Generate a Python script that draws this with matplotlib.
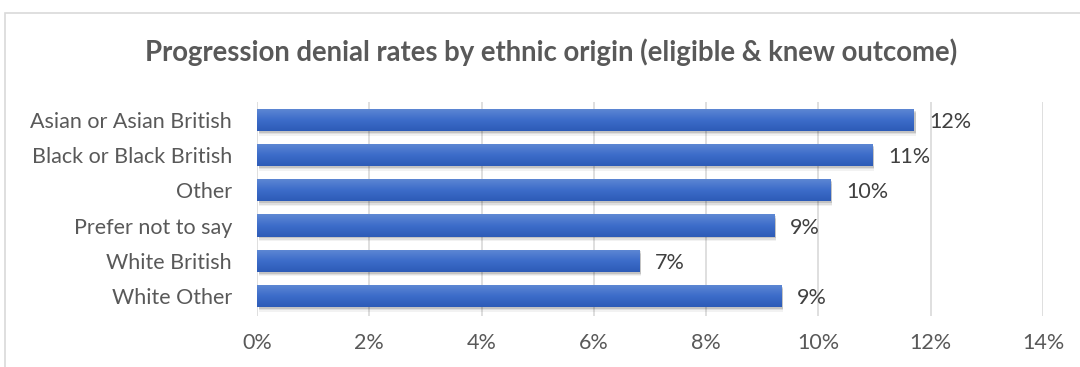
import matplotlib
matplotlib.use("Agg")
from matplotlib import pyplot as plt
from matplotlib.patches import Rectangle
import numpy as np

# Data
groups = ["Asian or Asian British", "Black or Black British", "Other",
          "Prefer not to say", "White British", "White Other"]
rates = [11.7, 10.96, 10.22, 9.21, 6.81, 9.34]
labels = ["12%", "11%", "10%", "9%", "7%", "9%"]
ticks = [0, 2, 4, 6, 8, 10, 12, 14]

plt.rcParams['font.family'] = ['Lato', 'DejaVu Sans']

fig = plt.figure(figsize=(10.8, 3.67), dpi=100)
ax = fig.add_axes([257 / 1080, 1 - 316 / 367, (1043 - 257) / 1080, (316 - 102) / 367])

# chart border
fig.patches.append(Rectangle((5 / 1080, -0.1), 1.2, 1 - 13 / 367 + 0.1,
                             transform=fig.transFigure, fill=False,
                             edgecolor='#d9d9d9', linewidth=1.2))

y = np.arange(len(groups))
h = 0.63

# soft shadow below bars
for k, a in [(0.05, 0.12), (0.09, 0.08), (0.13, 0.05)]:
    ax.barh(y + k, rates, height=h, left=0.03, color='#000000', alpha=a, zorder=2)
bars = ax.barh(y, rates, height=h, color='#4472c4', zorder=3)

# vertical gradient in each bar (lighter on top)
grad = np.linspace(0, 1, 64).reshape(-1, 1)
cmap = matplotlib.colors.LinearSegmentedColormap.from_list('g', ['#6089d4', '#3d6dca', '#2d5bb7'])
for b in bars:
    x0, y0 = b.get_x(), b.get_y()
    im = ax.imshow(grad, extent=(x0, x0 + b.get_width(), y0, y0 + b.get_height()),
                   aspect='auto', cmap=cmap, zorder=4, origin='lower')
    im.set_clip_path(b)

for yi, v, lab in zip(y, rates, labels):
    ax.text(v + 0.28, yi + 0.06, lab, va='center', ha='left', fontsize=15.5, color='#404040', zorder=5)

ax.set_xlim(0, 14)
ax.set_ylim(len(groups) - 1 + 0.57, -0.51)
ax.set_xticks(ticks)
ax.set_xticklabels([f"{t}%" for t in ticks])
ax.set_yticks(y)
ax.set_yticklabels(groups)
ax.tick_params(axis='both', length=0, labelsize=15.5, colors='#595959')
ax.tick_params(axis='y', pad=18)
ax.tick_params(axis='x', pad=12)
ax.grid(axis='x', color='#d9d9d9', linewidth=1.2, zorder=0)
ax.set_axisbelow(True)
for s in ax.spines.values():
    s.set_visible(False)

fig.text(551 / 1080, 1 - 52 / 367, "Progression denial rates by ethnic origin (eligible & knew outcome)",
         ha='center', va='center', fontsize=19.8, fontweight='bold', color='#595959')

fig.savefig("out.png", dpi=100)
